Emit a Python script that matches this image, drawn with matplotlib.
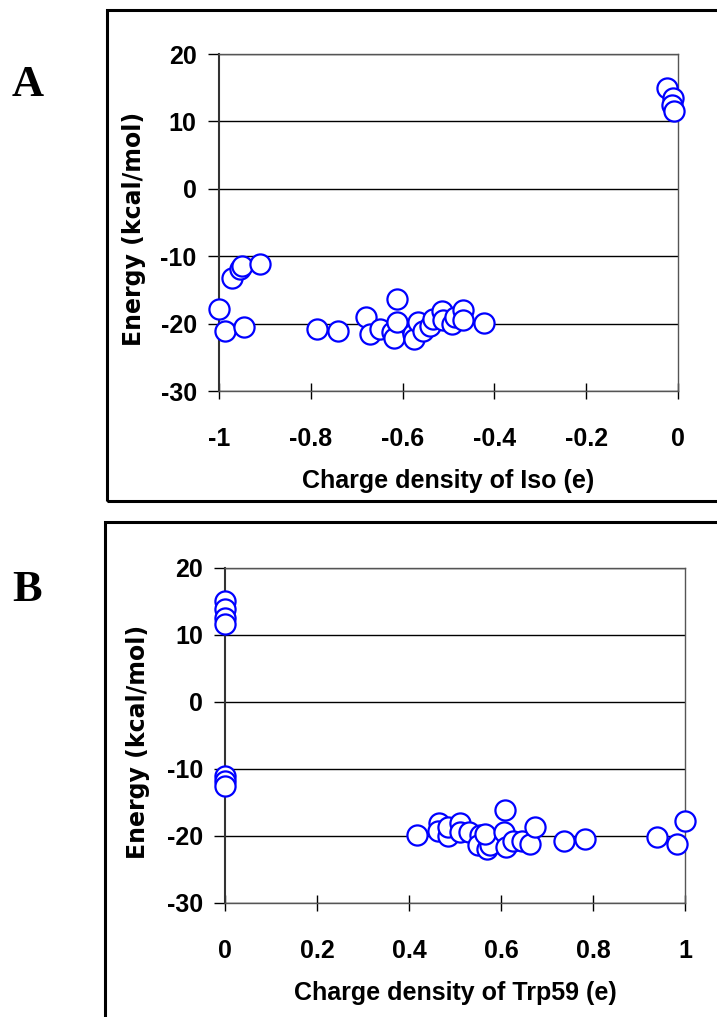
import numpy as np
import matplotlib
matplotlib.use('Agg')
import matplotlib.pyplot as plt
from matplotlib.patches import Rectangle

plt.rcParams['font.family'] = ['Liberation Sans', 'DejaVu Sans']
plt.rcParams['axes.unicode_minus'] = False

# panel A: energy vs charge density of Iso
iso_x = [-1.0, -0.987, -0.945, -0.972, -0.955, -0.950, -0.911,
         -0.787, -0.741, -0.680, -0.671, -0.649, -0.624, -0.619,
         -0.612, -0.612, -0.578, -0.575, -0.566, -0.555, -0.540,
         -0.534, -0.515, -0.511, -0.493, -0.486, -0.469, -0.468,
         -0.423, -0.023, -0.010, -0.014, -0.009]
iso_y = [-17.8, -21.1, -20.5, -13.2, -11.9, -11.5, -11.1,
         -20.8, -21.1, -19.0, -21.5, -20.8, -21.3, -22.1,
         -16.4, -19.8, -21.5, -22.3, -19.8, -21.1, -20.3,
         -19.3, -18.1, -19.4, -20.1, -19.0, -18.0, -19.5,
         -19.9, 15.0, 13.4, 12.5, 11.6]

# panel B: energy vs charge density of Trp59
trp_x = [0.0, 0.0, 0.0, 0.0, 0.0, 0.0, 0.0,
         0.417, 0.465, 0.464, 0.485, 0.484, 0.511, 0.511, 0.531,
         0.554, 0.551, 0.570, 0.575, 0.565, 0.609, 0.607, 0.611,
         0.627, 0.645, 0.664, 0.674, 0.736, 0.783, 0.938, 0.982, 1.0]
trp_y = [15.0, 13.9, 12.5, 11.6, -11.1, -11.8, -12.5,
         -19.9, -18.0, -19.2, -20.0, -18.7, -18.0, -19.4, -19.4,
         -19.9, -21.4, -21.9, -21.4, -19.7, -16.1, -19.4, -21.7,
         -20.7, -20.7, -21.2, -18.7, -20.8, -20.4, -20.2, -21.2, -17.8]

y_ticks = [-30, -20, -10, 0, 10, 20]
iso_ticks = [-1, -0.8, -0.6, -0.4, -0.2, 0]
iso_labels = ['-1', '-0.8', '-0.6', '-0.4', '-0.2', '0']
trp_ticks = [0, 0.2, 0.4, 0.6, 0.8, 1]
trp_labels = ['0', '0.2', '0.4', '0.6', '0.8', '1']

fig = plt.figure(figsize=(7.17, 10.17), dpi=100)

# outer frames around each panel
fig.patches.append(Rectangle((0.1492, 0.5074), 0.9, 0.4828, transform=fig.transFigure,
                             fill=False, ec='black', lw=2.2))
fig.patches.append(Rectangle((0.1464, -0.05), 0.9, 0.5367, transform=fig.transFigure,
                             fill=False, ec='black', lw=2.2))


def draw_panel(ax, x, y, xticks, xlabels, xlim, xlabel, ylab_x):
    ax.plot(x, y, 'o', ms=14.5, mfc='white', mec='#0000ff', mew=1.6, clip_on=False, zorder=3)
    ax.set_xlim(*xlim)
    ax.set_ylim(-30, 20)
    ax.set_yticks(y_ticks)
    ax.set_xticks(xticks)
    ax.set_xticklabels(xlabels)
    for v in y_ticks:
        ax.axhline(v, color='black', lw=1.0, zorder=1)
    for s in ax.spines.values():
        s.set_color('#555555')
        s.set_linewidth(1.0)
    ax.spines['left'].set_color('#333333')
    ax.spines['left'].set_linewidth(1.5)
    ax.tick_params(axis='y', direction='out', length=8, width=1, pad=8, labelsize=18)
    ax.tick_params(axis='x', direction='inout', length=12, width=1, pad=20, labelsize=18)
    for t in ax.get_xticklabels() + ax.get_yticklabels():
        t.set_fontweight('bold')
    ax.set_xlabel(xlabel, fontsize=18, fontweight='bold', labelpad=13)
    ax.set_ylabel('Energy (kcal/mol)', fontsize=17, fontweight='bold', family='DejaVu Sans')
    ax.yaxis.set_label_coords(ylab_x, 0.48)


ax1 = fig.add_axes([0.3054, 0.6155, 0.6402, 0.3314])
draw_panel(ax1, iso_x, iso_y, iso_ticks, iso_labels, (-1, 0), 'Charge density of Iso (e)', -0.159)

ax2 = fig.add_axes([0.3138, 0.1121, 0.6416, 0.3294])
draw_panel(ax2, trp_x, trp_y, trp_ticks, trp_labels, (0, 1), 'Charge density of Trp59 (e)', -0.163)

fig.text(0.038, 0.916, 'A', family='Liberation Serif', fontweight='bold', fontsize=32,
         ha='center', va='center')
fig.text(0.038, 0.420, 'B', family='Liberation Serif', fontweight='bold', fontsize=32,
         ha='center', va='center')

plt.savefig('out.png', dpi=100)
